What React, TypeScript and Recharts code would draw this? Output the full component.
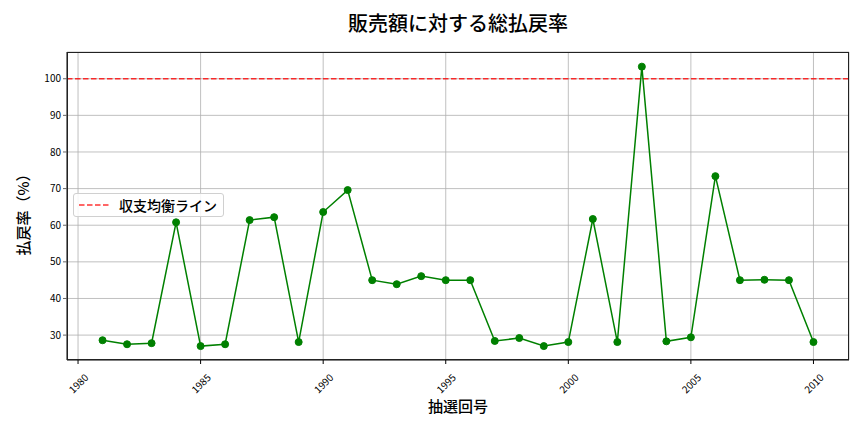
import React from 'react';
import { LineChart, Line, XAxis, YAxis, CartesianGrid, ReferenceLine } from 'recharts';

const years: number[] = [1981,1982,1983,1984,1985,1986,1987,1988,1989,1990,1991,1992,1993,1994,1995,1996,1997,1998,1999,2000,2001,2002,2003,2004,2005,2006,2007,2008,2009,2010];
const payoutRates: number[] = [28.6,27.5,27.8,60.8,27.0,27.5,61.4,62.2,28.1,63.6,69.6,45.0,43.9,46.1,45.0,45.0,28.4,29.2,27.0,28.1,61.7,28.1,103.3,28.3,29.4,73.4,45.0,45.1,45.0,28.1];
const xTicks: number[] = [1980,1985,1990,1995,2000,2005,2010];
const yTicks: number[] = [30,40,50,60,70,80,90,100];
const breakEven = 100;
const title = '販売額に対する総払戻率';
const xLabel = '抽選回号';
const yLabel = '払戻率（%）';
const legendLabel = '収支均衡ライン';

const data = years.map((y, i) => ({ x: y, rate: payoutRates[i] }));

const FONT = '"Noto Sans CJK JP", "Noto Sans", sans-serif';

const XTick = (props: any) => {
  const { x, y, payload } = props;
  const cy = y + 17;
  return (
    <text
      x={x}
      y={cy}
      transform={`rotate(-45, ${x}, ${cy})`}
      textAnchor="middle"
      dominantBaseline="central"
      fontSize={10}
      fontFamily={FONT}
      fill="#000"
    >
      {payload.value}
    </text>
  );
};

const LegendBox = () => (
  <div
    style={{
      position: 'absolute',
      left: 73,
      top: 193,
      display: 'flex',
      alignItems: 'center',
      background: 'rgba(255,255,255,0.85)',
      border: '1px solid #d0d0d0',
      borderRadius: 3,
      padding: '0px 6px 0px 5px',
      fontFamily: FONT,
      fontSize: 14,
      fontWeight: 500,
      color: '#000',
      height: 24,
      boxSizing: 'border-box',
    }}
  >
    <svg width={30} height={10} style={{ marginRight: 10 }}>
      <line x1={0} y1={5} x2={30} y2={5} stroke="#ff0000" strokeOpacity={0.8} strokeWidth={1.5} strokeDasharray="5.5 2.5" />
    </svg>
    <span>{legendLabel}</span>
  </div>
);

export default function App() {
  return (
    <div style={{ position: 'absolute', left: 0, top: 0, width: 864, height: 432, background: '#fff', fontFamily: FONT }}>
      <div style={{ position: 'absolute', left: 0, width: 916, top: 8, textAlign: 'center', fontSize: 20, fontWeight: 500, fontFamily: FONT, color: '#000' }}>{title}</div>
      <LineChart width={864} height={432} data={data} margin={{ top: 52, right: 15, bottom: 32, left: 27 }}>
        <CartesianGrid stroke="#b0b0b0" strokeWidth={0.8} />
        <XAxis
          dataKey="x"
          type="number"
          domain={[1979.55, 2011.45]}
          ticks={xTicks}
          allowDataOverflow
          height={40}
          tick={<XTick />}
          tickSize={4}
          stroke="#000"
          axisLine={{ stroke: '#222' }}
          interval={0}
        />
        <YAxis
          type="number"
          domain={[23.2, 107.3]}
          ticks={yTicks}
          allowDataOverflow
          width={40}
          tickSize={4}
          axisLine={{ stroke: '#222' }}
          tick={{ fontSize: 10, fontFamily: FONT, fill: '#000' }}
          interval={0}
        />
        <ReferenceLine y={breakEven} stroke="#ff0000" strokeOpacity={0.8} strokeWidth={1.5} strokeDasharray="5.5 2.5" />
        <Line
          dataKey="rate"
          stroke="#008000"
          strokeWidth={1.5}
          dot={{ r: 3.5, fill: '#008000', stroke: '#008000', strokeWidth: 1 }}
          activeDot={false}
          isAnimationActive={false}
          legendType="none"
        />
      </LineChart>
      <div style={{ position: 'absolute', left: 67, top: 52, width: 782, height: 308, border: '1px solid #222', boxSizing: 'border-box', pointerEvents: 'none' }} />
      <LegendBox />
      <div style={{ position: 'absolute', left: 0, width: 916, top: 395, textAlign: 'center', fontSize: 15, fontWeight: 500, fontFamily: FONT, color: '#000' }}>{xLabel}</div>
      <div style={{ position: 'absolute', left: 22, top: 211, transform: 'translate(-50%, -50%) rotate(-90deg)', whiteSpace: 'nowrap', fontSize: 15, fontWeight: 500, fontFamily: FONT, color: '#000' }}>{yLabel}</div>
    </div>
  );
}
